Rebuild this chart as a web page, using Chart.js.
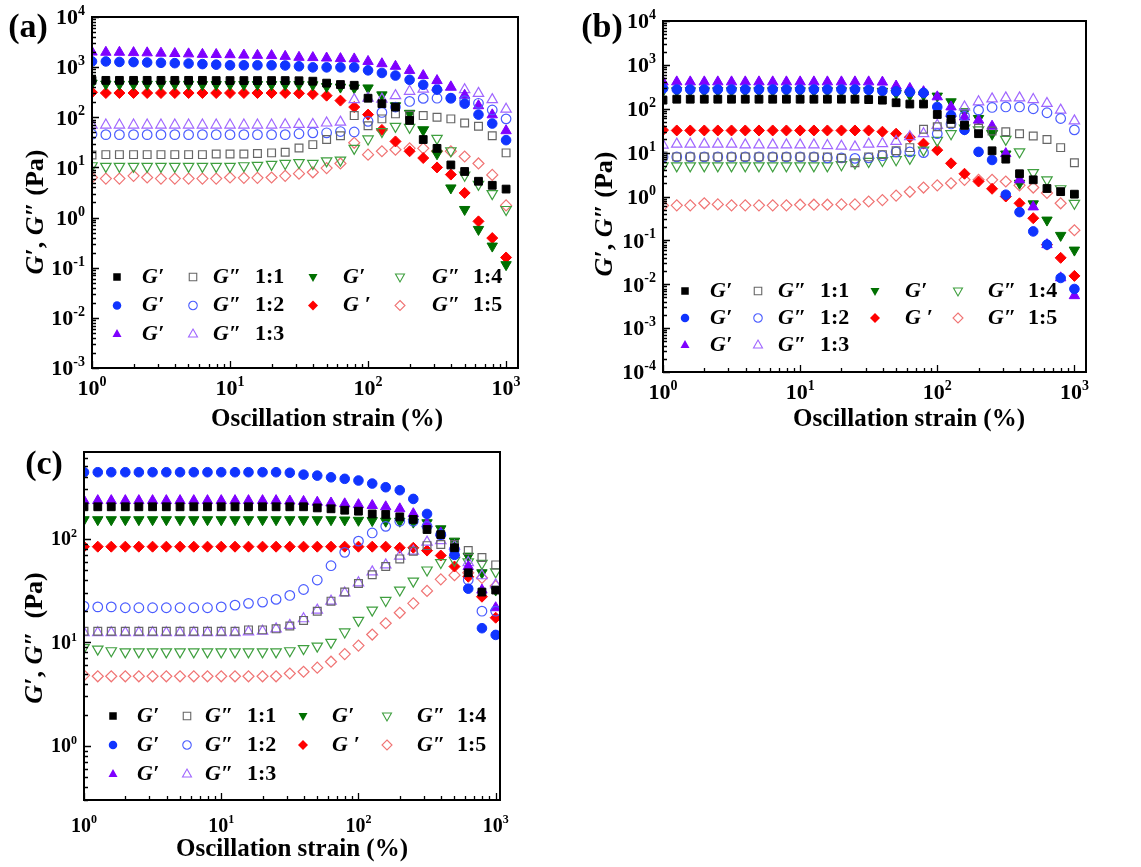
<!DOCTYPE html>
<html>
<head>
<meta charset="utf-8">
<script src="https://cdn.jsdelivr.net/npm/chart.js@4.4.0/dist/chart.umd.min.js"></script>
<style>
  body { margin: 0; background: #fff; width: 1141px; height: 867px; position: relative; overflow: hidden; }
  canvas { position: absolute; }
</style>
</head>
<body>
<canvas id="chartA" width="570" height="435" style="left:0;top:0"></canvas>
<canvas id="chartB" width="571" height="435" style="left:570px;top:0"></canvas>
<canvas id="chartC" width="600" height="432" style="left:0;top:435px"></canvas>
<script>
// strain (%) – 10 points per decade
const strain = [1, 1.26, 1.58, 2, 2.51, 3.16, 3.98, 5.01, 6.31, 7.94,
  10, 12.6, 15.8, 20, 25.1, 31.6, 39.8, 50.1, 63.1, 79.4,
  100, 126, 158, 200, 251, 316, 398, 501, 631, 794, 1000];
const ratios = ["1:1", "1:2", "1:3", "1:4", "1:5"];
const gpLabels = ["G\u2032", "G\u2032", "G\u2032", "G\u2032", "G \u2032"];
const gppLabel = "G\u2033";
const xExp = [0, 1, 2, 3];
const yExpA = [-3, -2, -1, 0, 1, 2, 3, 4];
const yExpB = [-4, -3, -2, -1, 0, 1, 2, 3, 4];
const yExpC = [0, 1, 2];

// (a) G' y G'' por proporción
const aGp11 = [545,545,545,545,545,545,545,545,545,540,540,540,540,540,540,535,525,480,450,435,240,187,160,87,36,24,11.2,8.3,5.3,4.4,3.7];
const aGpp11 = [17.7,18,18,18,18,18,18,18,18,18.5,18.5,18.5,19,19.5,20,24.5,28.5,36,43,108,68,93,117,110,108,100,93,77,66,43,19.5];
const aGp12 = [1300,1300,1270,1260,1240,1220,1200,1180,1150,1120,1090,1090,1090,1090,1080,1040,990,990,990,990,864,765,680,560,445,356,240,187,113,75,35];
const aGpp12 = [46,45,45,45,45,45,45,45,45,45,45,45,45,45,45,47,49,49,52,51,83,125,160,207,238,240,240,215,190,140,93];
const aGp13 = [2000,1980,1980,1950,1930,1900,1870,1840,1800,1790,1770,1740,1720,1700,1640,1570,1550,1520,1480,1460,1300,1170,1040,860,680,540,400,275,170,112,54];
const aGpp13 = [70,70,70,70,70,70,70,70,70,70,70,70,70,70,71,72,72,77,80,225,240,230,270,330,365,400,400,355,300,225,145];
const aGp14 = [480,460,455,455,455,455,455,455,450,450,450,450,450,450,450,450,445,410,400,385,385,280,170,120,56,18.7,3.9,1.45,0.58,0.27,0.115];
const aGpp14 = [10.8,10.5,10.5,10.5,10.5,10.5,10.5,10.5,10.5,10.5,10.5,10.8,11,11.5,12,12.5,12,13.5,14,24,37,52,66,63,56,38,21.5,7,4.6,3,1.45];
const aGp15 = [314,305,305,305,305,305,305,305,305,305,305,305,305,305,305,300,290,270,215,160,113,56,33,21,15.4,10,7.2,3.1,0.84,0.39,0.16];
const aGpp15 = [6.3,6,6,6.8,6.3,6,6,6,6,6,6.3,6.2,6.2,6.3,6.8,7.5,8,9.7,12,31,18,21,22.5,24,24,21,21,16.5,12,7.1,1.75];

// (b)
const bGp11 = [157,165,165,165,165,165,165,165,165,165,165,165,165,165,165,162,157,137,128,128,74,57,42,27,11,7.1,3.3,2.4,1.52,1.29,1.13];
const bGpp11 = [8.4,8,8,8,8,8,8,8,8,8,8,8,8,7.4,5.9,8,9,11,13,34,39,46,42,36,31,30,27,24,20,13,5.9];
const bGp12 = [289,275,275,275,275,275,275,275,275,275,275,275,275,275,275,270,255,250,240,230,110,71,33,10.4,6.8,1.1,0.44,0.16,0.08,0.0139,0.0078];
const bGpp12 = [8,8,8,8,8,8,8,8,8,8,8,8,7.6,7.6,7.4,7.6,8.5,10.4,10.4,10,27,45,68,93,107,110,110,100,81,60,33];
const bGp13 = [410,410,410,410,410,410,410,410,410,410,410,410,410,410,410,410,405,330,290,245,187,110,65,55,40,9.5,2.4,0.58,0.08,0.014,0.0055];
const bGpp13 = [14.9,15.6,15.6,15.6,15.6,15.6,15,15,15,15,15,15,14.5,14,13.5,15.6,16,18,23,27,42,78,110,144,168,177,177,162,132,93,53];
const bGp14 = [257,257,257,257,257,257,257,257,257,257,257,257,257,257,257,257,250,225,205,205,194,144,85,60,27,9.3,2.0,0.68,0.29,0.13,0.06];
const bGpp14 = [5,5,5,5,5,5,5,5,5,5,5,5,5,5.3,5.8,6.3,6.6,6.9,7.4,11.4,19,27,36,33,27,20,10.4,3.5,2.4,1.5,0.7];
const bGp15 = [32.6,32,32,32,32,32,32,32,32,32,32,32,32,32,32,32,30,27,22.5,16,11.4,5.7,3.3,2.2,1.5,1.0,0.7,0.32,0.08,0.04,0.0155];
const bGpp15 = [0.62,0.63,0.63,0.7,0.66,0.63,0.63,0.63,0.63,0.63,0.65,0.65,0.65,0.66,0.66,0.77,0.83,1.05,1.28,1.6,1.8,2.0,2.4,2.4,2.4,2.2,1.8,1.6,1.2,0.7,0.17];

// (c)
const cGp11 = [204,204,204,204,204,204,204,204,204,204,204,204,204,204,204,204,204,199,195,189,185,174,172,163,154,123,110,82,47,30.6,32];
const cGpp11 = [12.8,12.8,12.8,12.8,12.8,12.8,12.8,12.8,12.8,12.8,12.8,12.8,13.2,13.2,13.5,14.4,16.3,20,25,30.6,37,45,54,64,76,86,88,88,77,66,56];
const cGp12 = [440,440,440,440,440,440,440,440,440,440,440,440,440,440,440,435,417,408,393,380,366,342,315,295,243,174,110,70,33,13.7,11.8];
const cGpp12 = [22.4,22,22,21.6,21.6,21.6,21.6,21.6,21.6,21.6,22,22.9,23.8,24.5,26,28.4,32.4,40,55,74,95,114,132,148,148,132,110,79,40,20,20];
const cGp13 = [234,234,234,234,234,234,234,234,234,234,234,234,234,234,234,232,230,226,222,218,214,210,204,195,175,140,114,73,54,32,21.6];
const cGpp13 = [12.4,12.4,12.4,12.4,12.4,12.4,12.4,12.4,12.4,12.4,12.4,12.4,12.6,12.8,13.5,14.6,16.9,20.5,25,30,37.6,48,56,68,76,93,96,85,59,44,36];
const cGp14 = [153,153,153,153,153,153,153,153,153,153,153,153,153,153,153,153,153,153,153,152,151,150,148,148,145,143,125,95,68,47,32];
const cGpp14 = [8.9,8.6,8.3,8.1,8.1,8.1,8.1,8.1,8.1,8.1,8.1,8.1,8.1,8.1,8.1,8.3,8.7,9.2,10,12.6,16.3,20.5,25.4,32,39,50,59,62,60,58,48];
const cGp15 = [84,84,84,84,84,84,84,84,84,84,84,84,84,84,84,84,84,84,84,84,84,84,84,82,82,77,69,54,43,27.6,17.3];
const cGpp15 = [4.8,4.7,4.7,4.7,4.7,4.7,4.7,4.7,4.7,4.7,4.7,4.7,4.7,4.7,4.7,5.0,5.2,5.7,6.5,7.7,9.3,11.9,15.3,19.3,23.8,31.4,40.6,44.6,47,42,35];

// estilo de marcador por proporción
const STYLE = [
  { shape: "rect", rot: 0, r: 5.5, fill: "#000000", open: "#666666" },
  { shape: "circle", rot: 0, r: 4.8, fill: "#1034ff", open: "#4a5cff" },
  { shape: "triangle", rot: 0, r: 6, fill: "#7f00ff", open: "#a066ff" },
  { shape: "triangle", rot: 180, r: 6, fill: "#007000", open: "#3f9f3f" },
  { shape: "rectRot", rot: 0, r: 5.5, fill: "#ff0000", open: "#f07474" },
];

const SERIF = '"Liberation Serif", "Times New Roman", serif';

function buildSets(gp, gpp) {
  const sets = [];
  ratios.forEach((r, i) => {
    const st = STYLE[i];
    sets.push({
      label: "G' " + r,
      data: strain.map((x, k) => ({ x, y: gp[i][k] })),
      pointStyle: st.shape, pointRotation: st.rot, pointRadius: st.r,
      pointBackgroundColor: st.fill, pointBorderColor: st.fill, pointBorderWidth: 1,
      clip: 0,
    });
    sets.push({
      label: "G'' " + r,
      data: strain.map((x, k) => ({ x, y: gpp[i][k] })),
      pointStyle: st.shape, pointRotation: st.rot, pointRadius: st.r,
      pointBackgroundColor: "rgba(0,0,0,0)", pointBorderColor: st.open, pointBorderWidth: 1.2,
      clip: 0,
    });
  });
  return sets;
}

// marcador pequeño para la leyenda
function marker(ctx, st, open, x, y, r) {
  ctx.save();
  ctx.translate(x, y);
  if (st.rot) ctx.rotate(Math.PI);
  ctx.beginPath();
  if (st.shape === "rect") { const s = r * 0.75; ctx.rect(-s, -s, 2 * s, 2 * s); }
  else if (st.shape === "circle") ctx.arc(0, 0, r * 0.85, 0, Math.PI * 2);
  else if (st.shape === "triangle") {
    ctx.moveTo(0, -r); ctx.lineTo(r * 0.9, r * 0.6); ctx.lineTo(-r * 0.9, r * 0.6); ctx.closePath();
  } else { ctx.moveTo(0, -r); ctx.lineTo(r, 0); ctx.lineTo(0, r); ctx.lineTo(-r, 0); ctx.closePath(); }
  if (open) { ctx.strokeStyle = st.open; ctx.lineWidth = 1.1; ctx.stroke(); }
  else { ctx.fillStyle = st.fill; ctx.fill(); }
  ctx.restore();
}

function pow10(ctx, exp, x, y, align, size) {
  const base = "10", sup = String(exp);
  const ss = Math.round(size * 0.62);
  ctx.font = `bold ${size}px ${SERIF}`;
  const wb = ctx.measureText(base).width;
  ctx.font = `bold ${ss}px ${SERIF}`;
  const ws = ctx.measureText(sup).width;
  const x0 = align === "right" ? x - wb - ws : x - (wb + ws) / 2;
  const baseY = y + size * 0.33;
  ctx.textAlign = "left";
  ctx.textBaseline = "alphabetic";
  ctx.font = `bold ${size}px ${SERIF}`;
  ctx.fillText(base, x0, baseY);
  ctx.font = `bold ${ss}px ${SERIF}`;
  ctx.fillText(sup, x0 + wb, baseY - size * 0.42);
}

function richText(ctx, parts, cx, cy, size) {
  const fontOf = (p) => `${p.it ? "italic " : ""}bold ${size}px ${SERIF}`;
  let total = 0;
  parts.forEach((p) => { ctx.font = fontOf(p); total += ctx.measureText(p.t).width; });
  let x = cx - total / 2;
  ctx.textAlign = "left";
  ctx.textBaseline = "middle";
  parts.forEach((p) => { ctx.font = fontOf(p); ctx.fillText(p.t, x, cy); x += ctx.measureText(p.t).width; });
}

const panelDeco = {
  id: "panelDeco",
  afterDatasetsDraw(chart, args, o) {
    const { ctx, chartArea: a, scales: { x, y } } = chart;
    ctx.save();
    ctx.fillStyle = "#000";
    ctx.strokeStyle = "#000";
    // ticks hacia adentro
    const decades = (lo, hi) => {
      const out = [];
      for (let e = Math.floor(Math.log10(lo)); e <= Math.ceil(Math.log10(hi)); e++)
        for (let m = 1; m < 10; m++) {
          const v = m * Math.pow(10, e);
          if (v >= lo * 0.999 && v <= hi * 1.001) out.push([v, m === 1]);
        }
      return out;
    };
    ctx.lineWidth = 1.3;
    ctx.beginPath();
    decades(x.min, x.max).forEach(([v, maj]) => {
      const px = Math.round(x.getPixelForValue(v)) + 0.5;
      ctx.moveTo(px, a.bottom); ctx.lineTo(px, a.bottom - (maj ? 7 : 4));
    });
    decades(y.min, y.max).forEach(([v, maj]) => {
      const py = Math.round(y.getPixelForValue(v)) + 0.5;
      ctx.moveTo(a.left, py); ctx.lineTo(a.left + (maj ? 7 : 4), py);
    });
    ctx.stroke();
    // marco
    ctx.lineWidth = 2;
    ctx.strokeRect(a.left, a.top, a.right - a.left, a.bottom - a.top);

    // etiquetas de ejes
    o.xExp.forEach((e) => pow10(ctx, e, x.getPixelForValue(Math.pow(10, e)), a.bottom + o.xLabelDy, "center", o.tickSize));
    o.yExp.forEach((e) => pow10(ctx, e, a.left - 7, y.getPixelForValue(Math.pow(10, e)), "right", o.tickSize));

    richText(ctx, [{ t: "Oscillation strain (%)" }], o.xTitleX, a.bottom + o.xTitleDy, 25);
    ctx.save();
    ctx.translate(o.yTitleX, o.yTitleY);
    ctx.rotate(-Math.PI / 2);
    richText(ctx, [{ t: "G\u2032", it: true }, { t: ", " }, { t: "G\u2033", it: true }, { t: o.yGap + "(Pa)" }], 0, 0, 26);
    ctx.restore();

    ctx.font = `bold 34px ${SERIF}`;
    ctx.textAlign = "center";
    ctx.textBaseline = "middle";
    ctx.fillText(o.letter, o.letterX, o.letterY);

    // leyenda
    ratios.forEach((r, i) => {
      const grp = i < 3 ? 0 : 1;
      const row = i < 3 ? i : i - 3;
      const c = o.legCols[grp];
      const yy = a.top + o.legTop + row * o.legStep;
      const st = STYLE[i];
      marker(ctx, st, false, a.left + c[0], yy, 5);
      marker(ctx, st, true, a.left + c[2], yy, 5);
      ctx.fillStyle = "#000";
      ctx.textAlign = "left";
      ctx.textBaseline = "middle";
      ctx.font = `italic bold 22px ${SERIF}`;
      ctx.fillText(gpLabels[i], a.left + c[1], yy);
      ctx.fillText(gppLabel, a.left + c[3], yy);
      ctx.font = `bold 22px ${SERIF}`;
      ctx.fillText(r, a.left + c[4], yy);
    });
    ctx.restore();
  },
};

function makeChart(id, gp, gpp, pad, xMax, yMin, yMax, deco) {
  return new Chart(document.getElementById(id), {
    type: "scatter",
    data: { datasets: buildSets(gp, gpp) },
    options: {
      responsive: false,
      animation: false,
      events: [],
      devicePixelRatio: 1,
      layout: { padding: pad },
      scales: {
        x: { type: "logarithmic", min: 1, max: xMax, display: false },
        y: { type: "logarithmic", min: yMin, max: yMax, display: false },
      },
      plugins: { legend: { display: false }, tooltip: { enabled: false }, panelDeco: deco },
    },
    plugins: [panelDeco],
  });
}

makeChart("chartA",
  [aGp11, aGp12, aGp13, aGp14, aGp15], [aGpp11, aGpp12, aGpp13, aGpp14, aGpp15],
  { left: 92, top: 17, right: 52, bottom: 67 }, 1220, 1e-3, 1e4,
  { xExp, yExp: yExpA, tickSize: 22, xLabelDy: 20, xTitleX: 327, xTitleDy: 52,
    yTitleX: 36, yTitleY: 212, yGap: " ", letter: "(a)", letterX: 28, letterY: 28,
    legTop: 260, legStep: 28.5,
    legCols: [[25, 50, 101, 121, 163], [221, 251, 308, 340, 381]] });

makeChart("chartB",
  [bGp11, bGp12, bGp13, bGp14, bGp15], [bGpp11, bGpp12, bGpp13, bGpp14, bGpp15],
  { left: 93, top: 21, right: 55, bottom: 63 }, 1215, 1e-4, 1e4,
  { xExp, yExp: yExpB, tickSize: 22, xLabelDy: 20, xTitleX: 339, xTitleDy: 48,
    yTitleX: 35, yTitleY: 214, yGap: " ", letter: "(b)", letterX: 32, letterY: 28,
    legTop: 270, legStep: 27,
    legCols: [[22, 47, 95, 115, 157], [212, 242, 295, 325, 365]] });

makeChart("chartC",
  [cGp11, cGp12, cGp13, cGp14, cGp15], [cGpp11, cGpp12, cGpp13, cGpp14, cGpp15],
  { left: 84, top: 17, right: 100, bottom: 67 }, 1075, 0.306, 690,
  { xExp, yExp: yExpC, tickSize: 20, xLabelDy: 25, xTitleX: 292, xTitleDy: 50,
    yTitleX: 35, yTitleY: 203, yGap: "  ", letter: "(c)", letterX: 44, letterY: 30,
    legTop: 264, legStep: 29,
    legCols: [[29, 53, 103, 121, 163], [219, 248, 303, 333, 373]] });
</script>
</body>
</html>
